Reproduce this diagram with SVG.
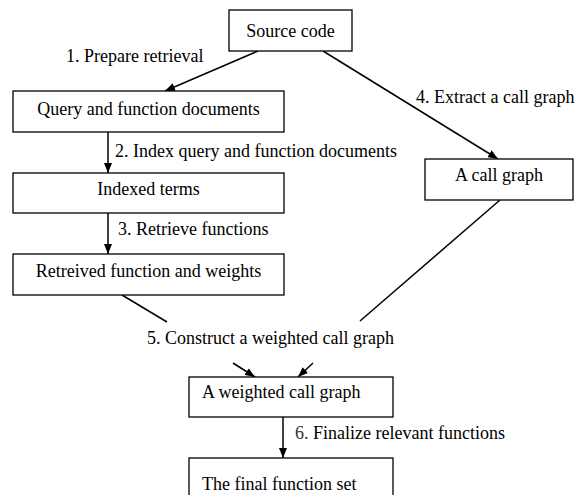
<svg xmlns="http://www.w3.org/2000/svg" width="585" height="495" viewBox="0 0 585 495">
  <style>
    .box { fill: #ffffff; stroke: #000000; stroke-width: 1.3; }
    .txt { font-family: 'Liberation Serif', 'DejaVu Serif', serif; font-size: 18px; fill: #000000; }
    .mid { text-anchor: middle; }
    .edge { stroke: #000000; stroke-width: 1.5; fill: none; }
    .arrow { marker-end: url(#head); }
  </style>
  <defs>
    <marker id="head" viewBox="0 0 10 8" refX="10" refY="4" markerWidth="10" markerHeight="8" markerUnits="userSpaceOnUse" orient="auto">
      <path d="M0,0 L10,4 L0,8 Z" fill="#000000"/>
    </marker>
  </defs>

  <rect width="585" height="495" fill="#ffffff"/>

  <!-- connectors and their step labels -->
  <g id="connectors">
    <line class="edge arrow" x1="258" y1="51" x2="165" y2="91"/>
    <line class="edge arrow" x1="323" y1="51" x2="498" y2="159"/>
    <line class="edge arrow" x1="108" y1="132" x2="108" y2="173"/>
    <line class="edge arrow" x1="108" y1="213" x2="108" y2="254"/>
    <line class="edge" x1="122" y1="295" x2="167" y2="322"/>
    <line class="edge arrow" x1="233" y1="363" x2="255" y2="377"/>
    <line class="edge" x1="500" y1="200" x2="360" y2="321"/>
    <line class="edge arrow" x1="313" y1="363" x2="298" y2="377"/>
    <line class="edge arrow" x1="283" y1="417" x2="283" y2="458"/>

    <text class="txt" x="66" y="62">1. Prepare retrieval</text>
    <text class="txt" x="416" y="103">4. Extract a call graph</text>
    <text class="txt" x="115" y="157">2. Index query and function documents</text>
    <text class="txt" x="118" y="235">3. Retrieve functions</text>
    <text class="txt" x="147" y="344">5. Construct a weighted call graph</text>
    <text class="txt" x="295" y="439"><tspan fill="#333333">6.</tspan> Finalize relevant functions</text>
  </g>

  <g id="source-code">
    <rect class="box" x="229" y="10" width="123" height="41"/>
    <text class="txt mid" x="290.5" y="36.5">Source code</text>
  </g>

  <g id="query-docs">
    <rect class="box" x="13" y="91" width="271" height="41"/>
    <text class="txt mid" x="148.5" y="115">Query and function documents</text>
  </g>

  <g id="indexed-terms">
    <rect class="box" x="13" y="173" width="271" height="40"/>
    <text class="txt mid" x="148.5" y="195">Indexed terms</text>
  </g>

  <g id="retrieved-functions">
    <rect class="box" x="13" y="254" width="271" height="41"/>
    <text class="txt mid" x="148.5" y="277">Retreived function and weights</text>
  </g>

  <g id="call-graph">
    <rect class="box" x="425" y="159" width="148" height="41"/>
    <text class="txt mid" x="499" y="181">A call graph</text>
  </g>

  <g id="weighted-call-graph">
    <rect class="box" x="189" y="377" width="204" height="40"/>
    <text class="txt" x="202" y="398">A weighted call graph</text>
  </g>

  <g id="final-function-set">
    <rect class="box" x="189" y="458" width="204" height="45"/>
    <text class="txt" x="202" y="490">The final function set</text>
  </g>
</svg>
